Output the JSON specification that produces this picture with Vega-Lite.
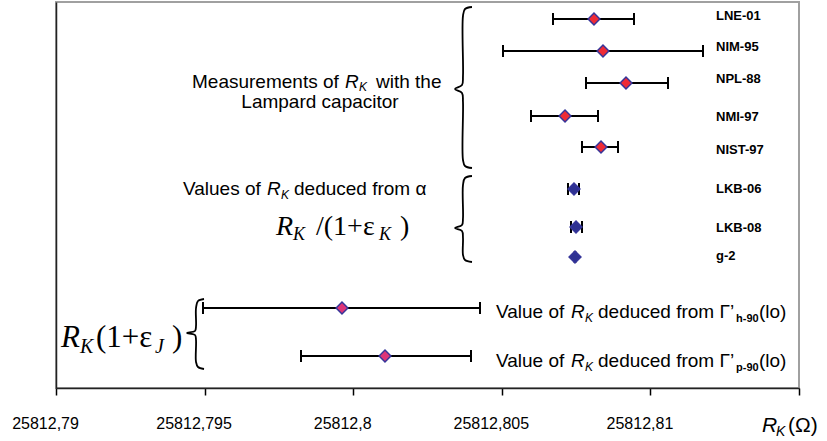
{
  "$schema": "https://vega.github.io/schema/vega-lite/v6.json",
  "width": 743,
  "height": 386,
  "autosize": {"type": "none"},
  "padding": {"left": 56, "top": 2, "right": 28, "bottom": 53},
  "background": "white",
  "config": {
    "font": "Liberation Sans",
    "view": {"stroke": "#a0a0a0", "strokeWidth": 2},
    "axis": {"grid": false}
  },
  "datasets": {
    "points": [
      {"name": "LNE-01", "group": "lampard", "v": 25812.808102, "lo": 25812.806723, "hi": 25812.809448, "pos": 17},
      {"name": "NIM-95", "group": "lampard", "v": 25812.808405, "lo": 25812.805040, "hi": 25812.811770, "pos": 49},
      {"name": "NPL-88", "group": "lampard", "v": 25812.809179, "lo": 25812.807833, "hi": 25812.810592, "pos": 81},
      {"name": "NMI-97", "group": "lampard", "v": 25812.807127, "lo": 25812.805983, "hi": 25812.808237, "pos": 114},
      {"name": "NIST-97", "group": "lampard", "v": 25812.808338, "lo": 25812.807699, "hi": 25812.808910, "pos": 145},
      {"name": "LKB-06", "group": "alpha", "v": 25812.807429, "lo": 25812.807227, "hi": 25812.807598, "pos": 187},
      {"name": "LKB-08", "group": "alpha", "v": 25812.807497, "lo": 25812.807328, "hi": 25812.807699, "pos": 225},
      {"name": "g-2", "group": "alpha", "v": 25812.807463, "lo": 25812.807453, "hi": 25812.807473, "pos": 255},
      {"name": "h-90", "group": "gamma", "v": 25812.799623, "lo": 25812.794946, "hi": 25812.804266, "pos": 306},
      {"name": "p-90", "group": "gamma", "v": 25812.801070, "lo": 25812.798244, "hi": 25812.803964, "pos": 354}
    ],
    "labels": [
      {"text": "LNE-01", "v": 25812.812207, "pos": 14},
      {"text": "NIM-95", "v": 25812.812207, "pos": 45},
      {"text": "NPL-88", "v": 25812.812207, "pos": 77},
      {"text": "NMI-97", "v": 25812.812207, "pos": 115},
      {"text": "NIST-97", "v": 25812.812207, "pos": 148},
      {"text": "LKB-06", "v": 25812.812207, "pos": 187},
      {"text": "LKB-08", "v": 25812.812207, "pos": 226},
      {"text": "g-2", "v": 25812.812207, "pos": 254}
    ],
    "braces": [
      {"brace": 1, "i": 0, "v": 25812.803997, "pos": 5},
      {"brace": 1, "i": 1, "v": 25812.803762, "pos": 7},
      {"brace": 1, "i": 2, "v": 25812.803694, "pos": 14},
      {"brace": 1, "i": 3, "v": 25812.803694, "pos": 74},
      {"brace": 1, "i": 4, "v": 25812.803661, "pos": 83},
      {"brace": 1, "i": 5, "v": 25812.803425, "pos": 87},
      {"brace": 1, "i": 6, "v": 25812.803661, "pos": 91},
      {"brace": 1, "i": 7, "v": 25812.803694, "pos": 100},
      {"brace": 1, "i": 8, "v": 25812.803694, "pos": 158},
      {"brace": 1, "i": 9, "v": 25812.803762, "pos": 164},
      {"brace": 1, "i": 10, "v": 25812.803997, "pos": 166},
      {"brace": 2, "i": 0, "v": 25812.803997, "pos": 174},
      {"brace": 2, "i": 1, "v": 25812.803762, "pos": 176},
      {"brace": 2, "i": 2, "v": 25812.803694, "pos": 183},
      {"brace": 2, "i": 3, "v": 25812.803694, "pos": 216},
      {"brace": 2, "i": 4, "v": 25812.803661, "pos": 223},
      {"brace": 2, "i": 5, "v": 25812.803425, "pos": 226},
      {"brace": 2, "i": 6, "v": 25812.803661, "pos": 229},
      {"brace": 2, "i": 7, "v": 25812.803694, "pos": 236},
      {"brace": 2, "i": 8, "v": 25812.803694, "pos": 253},
      {"brace": 2, "i": 9, "v": 25812.803762, "pos": 258},
      {"brace": 2, "i": 10, "v": 25812.803997, "pos": 260},
      {"brace": 3, "i": 0, "v": 25812.794980, "pos": 297},
      {"brace": 3, "i": 1, "v": 25812.794778, "pos": 299},
      {"brace": 3, "i": 2, "v": 25812.794711, "pos": 306},
      {"brace": 3, "i": 3, "v": 25812.794711, "pos": 324},
      {"brace": 3, "i": 4, "v": 25812.794677, "pos": 329},
      {"brace": 3, "i": 5, "v": 25812.794408, "pos": 331},
      {"brace": 3, "i": 6, "v": 25812.794677, "pos": 333},
      {"brace": 3, "i": 7, "v": 25812.794711, "pos": 338},
      {"brace": 3, "i": 8, "v": 25812.794711, "pos": 360},
      {"brace": 3, "i": 9, "v": 25812.794778, "pos": 365},
      {"brace": 3, "i": 10, "v": 25812.794980, "pos": 367}
    ],
    "sans": [
      {"text": "Measurements of", "v": 25812.794576, "pos": 86},
      {"text": "with the", "v": 25812.800767, "pos": 86},
      {"text": "Values of", "v": 25812.794273, "pos": 193},
      {"text": "deduced from α", "v": 25812.798008, "pos": 193},
      {"text": "Value of", "v": 25812.804805, "pos": 316},
      {"text": "deduced from Γ’", "v": 25812.808237, "pos": 316},
      {"text": "(lo)", "v": 25812.813654, "pos": 316},
      {"text": "Value of", "v": 25812.804805, "pos": 365},
      {"text": "deduced from Γ’", "v": 25812.808237, "pos": 365},
      {"text": "(lo)", "v": 25812.813654, "pos": 365}
    ],
    "sansCentered": [
      {"text": "Lampard capacitor", "v": 25812.798883, "pos": 106}
    ],
    "sansItalic": [
      {"text": "R", "v": 25812.799724, "pos": 86},
      {"text": "R", "v": 25812.797100, "pos": 193},
      {"text": "R", "v": 25812.807328, "pos": 316},
      {"text": "R", "v": 25812.807328, "pos": 365}
    ],
    "sansItalicSub": [
      {"text": "K", "v": 25812.800195, "pos": 89},
      {"text": "K", "v": 25812.797571, "pos": 197},
      {"text": "K", "v": 25812.807799, "pos": 320},
      {"text": "K", "v": 25812.807799, "pos": 369}
    ],
    "sansBoldSub": [
      {"text": "h-90", "v": 25812.812880, "pos": 320},
      {"text": "p-90", "v": 25812.812880, "pos": 369}
    ],
    "serifA": [
      {"text": "/(1+ε", "v": 25812.798748, "pos": 233},
      {"text": ")", "v": 25812.801575, "pos": 233}
    ],
    "serifItalicA": [
      {"text": "R", "v": 25812.797402, "pos": 233}
    ],
    "serifSubA": [
      {"text": "K", "v": 25812.797974, "pos": 238},
      {"text": "K", "v": 25812.800868, "pos": 238}
    ],
    "serifB": [
      {"text": "(1+ε", "v": 25812.791346, "pos": 345},
      {"text": ")", "v": 25812.793903, "pos": 345}
    ],
    "serifItalicB": [
      {"text": "R", "v": 25812.790168, "pos": 345}
    ],
    "serifSubB": [
      {"text": "K", "v": 25812.790808, "pos": 351},
      {"text": "J", "v": 25812.793331, "pos": 351}
    ],
    "axisR": [
      {"text": "R", "v": 25812.813755, "pos": 430}
    ],
    "axisK": [
      {"text": "K", "v": 25812.814226, "pos": 434}
    ],
    "axisO": [
      {"text": "(Ω)", "v": 25812.814630, "pos": 430}
    ]
  },
  "encoding": {
    "x": {
      "field": "v",
      "type": "quantitative",
      "scale": {"domain": [25812.79, 25812.815], "nice": false, "zero": false},
      "axis": {
        "title": null,
        "values": [25812.79, 25812.795, 25812.8, 25812.805, 25812.81, 25812.815],
        "labelExpr": "datum.value > 25812.812 ? '' : replace(format(datum.value, '.3~f'), '.', ',')",
        "labelFont": "Liberation Sans",
        "labelFontSize": 16,
        "labelColor": "black",
        "labelOffset": -11,
        "labelPadding": 20,
        "labelFlush": false,
        "labelOverlap": false,
        "tickColor": "black",
        "tickSize": 7,
        "tickWidth": 1.5,
        "domainColor": "#222222",
        "domainWidth": 1.5,
        "grid": false
      }
    },
    "y": {
      "field": "pos",
      "type": "quantitative",
      "scale": {"domain": [0, 386], "nice": false, "zero": false, "reverse": true},
      "axis": {
        "title": null,
        "labels": false,
        "ticks": false,
        "grid": false,
        "domainColor": "#222222",
        "domainWidth": 1.5
      }
    }
  },
  "layer": [
    {
      "data": {"name": "braces"},
      "mark": {"type": "line", "interpolate": "catmull-rom", "strokeWidth": 1.8, "color": "black"},
      "encoding": {
        "detail": {"field": "brace", "type": "nominal"},
        "order": {"field": "i", "type": "quantitative"}
      }
    },
    {
      "data": {"name": "points"},
      "mark": {"type": "rule", "strokeWidth": 2, "color": "black"},
      "encoding": {
        "x": {
          "field": "lo",
          "type": "quantitative",
          "axis": {
            "title": null,
            "values": [25812.79, 25812.795, 25812.8, 25812.805, 25812.81, 25812.815],
            "labelExpr": "datum.value > 25812.812 ? '' : replace(format(datum.value, '.3~f'), '.', ',')",
            "labelFont": "Liberation Sans",
            "labelFontSize": 16,
            "labelColor": "black",
            "labelOffset": -11,
            "labelPadding": 20,
            "labelFlush": false,
            "labelOverlap": false,
            "tickColor": "black",
            "tickSize": 7,
            "tickWidth": 1.5,
            "domainColor": "#222222",
            "domainWidth": 1.5,
            "grid": false
          }
        },
        "x2": {"field": "hi"}
      }
    },
    {
      "data": {"name": "points"},
      "mark": {"type": "tick", "orient": "vertical", "size": 12, "thickness": 2, "color": "black", "opacity": 1},
      "encoding": {
        "x": {
          "field": "lo",
          "type": "quantitative",
          "axis": {
            "title": null,
            "values": [25812.79, 25812.795, 25812.8, 25812.805, 25812.81, 25812.815],
            "labelExpr": "datum.value > 25812.812 ? '' : replace(format(datum.value, '.3~f'), '.', ',')",
            "labelFont": "Liberation Sans",
            "labelFontSize": 16,
            "labelColor": "black",
            "labelOffset": -11,
            "labelPadding": 20,
            "labelFlush": false,
            "labelOverlap": false,
            "tickColor": "black",
            "tickSize": 7,
            "tickWidth": 1.5,
            "domainColor": "#222222",
            "domainWidth": 1.5,
            "grid": false
          }
        }
      }
    },
    {
      "data": {"name": "points"},
      "mark": {"type": "tick", "orient": "vertical", "size": 12, "thickness": 2, "color": "black", "opacity": 1},
      "encoding": {
        "x": {
          "field": "hi",
          "type": "quantitative",
          "axis": {
            "title": null,
            "values": [25812.79, 25812.795, 25812.8, 25812.805, 25812.81, 25812.815],
            "labelExpr": "datum.value > 25812.812 ? '' : replace(format(datum.value, '.3~f'), '.', ',')",
            "labelFont": "Liberation Sans",
            "labelFontSize": 16,
            "labelColor": "black",
            "labelOffset": -11,
            "labelPadding": 20,
            "labelFlush": false,
            "labelOverlap": false,
            "tickColor": "black",
            "tickSize": 7,
            "tickWidth": 1.5,
            "domainColor": "#222222",
            "domainWidth": 1.5,
            "grid": false
          }
        }
      }
    },
    {
      "data": {"name": "points"},
      "mark": {"type": "point", "shape": "diamond", "filled": true, "size": 140, "stroke": "#35359a", "strokeWidth": 1.5, "opacity": 1},
      "encoding": {
        "fill": {
          "field": "group",
          "type": "nominal",
          "scale": {"domain": ["lampard", "alpha", "gamma"], "range": ["#ee2b36", "#2e3192", "#dc3478"]},
          "legend": null
        }
      }
    },
    {
      "data": {"name": "labels"},
      "mark": {"type": "text", "align": "left", "baseline": "middle", "font": "Liberation Sans", "fontSize": 13, "fontWeight": "bold", "color": "black"},
      "encoding": {"text": {"field": "text"}}
    },
    {
      "data": {"name": "sans"},
      "mark": {"type": "text", "align": "left", "baseline": "alphabetic", "font": "Liberation Sans", "fontSize": 19, "color": "black"},
      "encoding": {"text": {"field": "text"}}
    },
    {
      "data": {"name": "sansCentered"},
      "mark": {"type": "text", "align": "center", "baseline": "alphabetic", "font": "Liberation Sans", "fontSize": 19, "color": "black"},
      "encoding": {"text": {"field": "text"}}
    },
    {
      "data": {"name": "sansItalic"},
      "mark": {"type": "text", "align": "left", "baseline": "alphabetic", "font": "Liberation Sans", "fontSize": 19, "fontStyle": "italic", "color": "black"},
      "encoding": {"text": {"field": "text"}}
    },
    {
      "data": {"name": "sansItalicSub"},
      "mark": {"type": "text", "align": "left", "baseline": "alphabetic", "font": "Liberation Sans", "fontSize": 12, "fontStyle": "italic", "color": "black"},
      "encoding": {"text": {"field": "text"}}
    },
    {
      "data": {"name": "sansBoldSub"},
      "mark": {"type": "text", "align": "left", "baseline": "alphabetic", "font": "Liberation Sans", "fontSize": 11, "fontWeight": "bold", "color": "black"},
      "encoding": {"text": {"field": "text"}}
    },
    {
      "data": {"name": "serifA"},
      "mark": {"type": "text", "align": "left", "baseline": "alphabetic", "font": "Liberation Serif", "fontSize": 28, "color": "black"},
      "encoding": {"text": {"field": "text"}}
    },
    {
      "data": {"name": "serifItalicA"},
      "mark": {"type": "text", "align": "left", "baseline": "alphabetic", "font": "Liberation Serif", "fontSize": 28, "fontStyle": "italic", "color": "black"},
      "encoding": {"text": {"field": "text"}}
    },
    {
      "data": {"name": "serifSubA"},
      "mark": {"type": "text", "align": "left", "baseline": "alphabetic", "font": "Liberation Serif", "fontSize": 18, "fontStyle": "italic", "color": "black"},
      "encoding": {"text": {"field": "text"}}
    },
    {
      "data": {"name": "serifB"},
      "mark": {"type": "text", "align": "left", "baseline": "alphabetic", "font": "Liberation Serif", "fontSize": 31, "color": "black"},
      "encoding": {"text": {"field": "text"}}
    },
    {
      "data": {"name": "serifItalicB"},
      "mark": {"type": "text", "align": "left", "baseline": "alphabetic", "font": "Liberation Serif", "fontSize": 31, "fontStyle": "italic", "color": "black"},
      "encoding": {"text": {"field": "text"}}
    },
    {
      "data": {"name": "serifSubB"},
      "mark": {"type": "text", "align": "left", "baseline": "alphabetic", "font": "Liberation Serif", "fontSize": 20, "fontStyle": "italic", "color": "black"},
      "encoding": {"text": {"field": "text"}}
    },
    {
      "data": {"name": "axisR"},
      "mark": {"type": "text", "align": "left", "baseline": "alphabetic", "font": "Liberation Sans", "fontSize": 21, "fontStyle": "italic", "color": "black"},
      "encoding": {"text": {"field": "text"}}
    },
    {
      "data": {"name": "axisK"},
      "mark": {"type": "text", "align": "left", "baseline": "alphabetic", "font": "Liberation Sans", "fontSize": 14, "fontStyle": "italic", "color": "black"},
      "encoding": {"text": {"field": "text"}}
    },
    {
      "data": {"name": "axisO"},
      "mark": {"type": "text", "align": "left", "baseline": "alphabetic", "font": "Liberation Sans", "fontSize": 21, "color": "black"},
      "encoding": {"text": {"field": "text"}}
    }
  ]
}
